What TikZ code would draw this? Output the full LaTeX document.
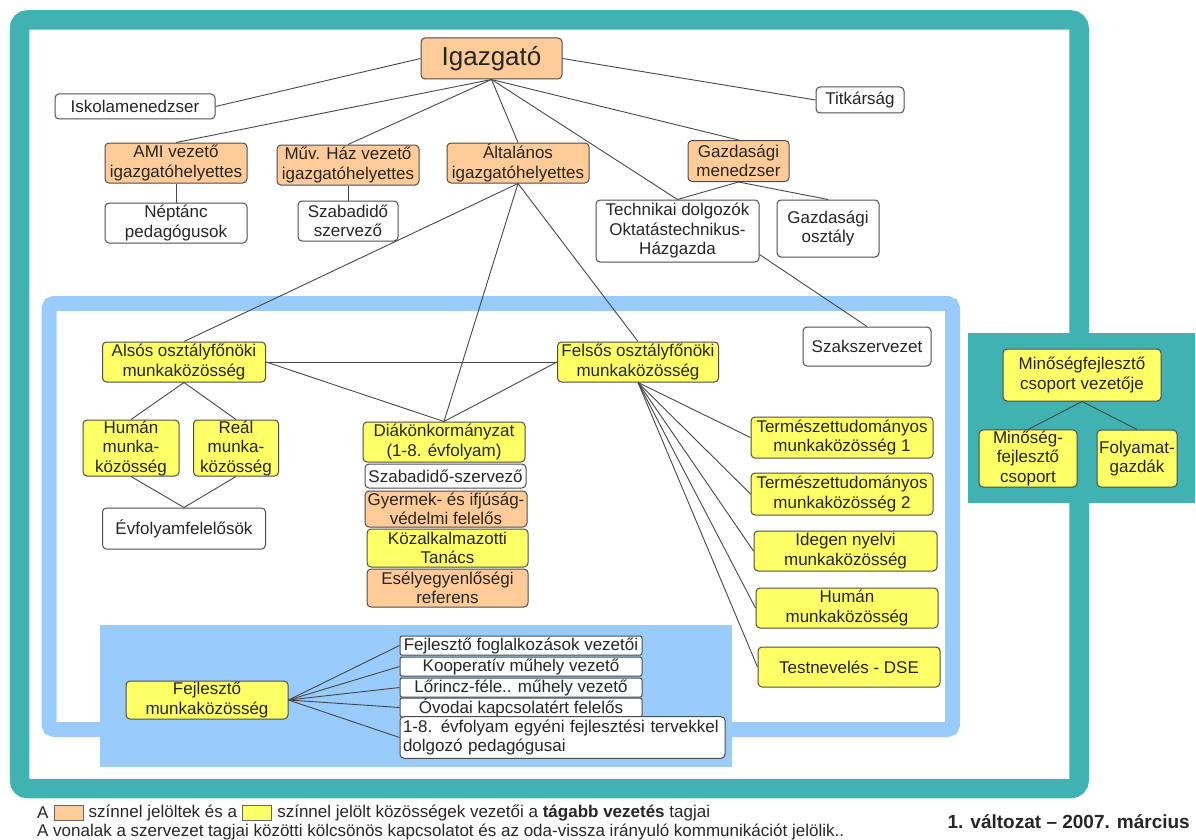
\documentclass[tikz,border=0pt]{standalone}
\usepackage{fontspec}
\setmainfont{Liberation Sans}
\usetikzlibrary{positioning}
\definecolor{keret}{RGB}{64,178,178}
\definecolor{kek}{RGB}{153,204,250}
\definecolor{narancs}{RGB}{255,204,153}
\definecolor{sarga}{RGB}{255,255,102}
\definecolor{vonal}{RGB}{70,70,70}
\tikzset{
	doboz/.style={draw=black!70, line width=1pt, rounded corners=4pt, align=center, inner sep=1pt, text=black!85, font=\fontsize{17}{19.5}\selectfont},
	narancsdoboz/.style={doboz, fill=narancs},
	sargadoboz/.style={doboz, fill=sarga},
	feherdoboz/.style={doboz, fill=white},
	meret/.style 2 args={minimum width=#1pt, minimum height=#2pt},
	kapcs/.style={draw=vonal, line width=0.9pt},
	legszoveg/.style={inner sep=0pt, text=black!85, font=\fontsize{17}{19}\selectfont},
	minta/.style={draw=black!60, line width=0.8pt, minimum width=29pt, minimum height=15pt, inner sep=0pt}
}

\begin{document}
\begin{tikzpicture}[x=1pt,y=-1pt]
		%%%%% START %%%%%
		\useasboundingbox (0,0) rectangle (1196,840);
		
		\draw[keret, line width=19.5pt, rounded corners=8pt] (19.5,20) rectangle (1079,788.5);
		\fill[keret] (968,333) rectangle (1195,503);
		\draw[kek, line width=15pt, rounded corners=5pt] (49,303.5) rectangle (952.5,729.5);
		\fill[kek] (100,625) rectangle (732,767);
		
		% vezetes
		\node[narancsdoboz, meret={141}{41}, font=\fontsize{26}{30}\selectfont] (igazgato) at (491.5,58.5) {Igazgató};
		\node[feherdoboz, meret={160}{25}] (iskola) at (135,106.5) {Iskolamenedzser};
		\node[feherdoboz, meret={88}{26}] (titkar) at (860,100) {Titkárság};
		\node[narancsdoboz, meret={142}{40}] (ami) at (176,163) {AMI vezető\\igazgatóhelyettes};
		\node[narancsdoboz, meret={142}{40}] (muv) at (348,165) {Műv. Ház vezető\\igazgatóhelyettes};
		\node[narancsdoboz, meret={142}{40}] (altalanos) at (518,163) {Általános\\igazgatóhelyettes};
		\node[narancsdoboz, meret={101}{41}] (gazdmen) at (738.5,161) {Gazdasági\\menedzser};
		\node[feherdoboz, meret={142}{40}] (neptanc) at (176,223) {Néptánc\\pedagógusok};
		\node[feherdoboz, meret={100}{40}] (szabadido) at (348,221) {Szabadidő\\szervező};
		\node[feherdoboz, meret={163}{62}] (technikai) at (677.5,231) {Technikai dolgozók\\Oktatástechnikus-\\Házgazda};
		\node[feherdoboz, meret={102}{57}] (gazdoszt) at (828,228.5) {Gazdasági\\osztály};
		\node[feherdoboz, meret={128}{39}] (szakszerv) at (867,346.5) {Szakszervezet};
		
		% munkakozossegek
		\node[sargadoboz, meret={163}{40}] (also) at (184,362) {Alsós osztályfőnöki\\munkaközösség};
		\node[sargadoboz, meret={161}{40}] (felso) at (638,362) {Felsős osztályfőnöki\\munkaközösség};
		\node[sargadoboz, meret={96}{56}, inner sep=0pt] (human) at (131,448) {Humán\\munka-\\közösség};
		\node[sargadoboz, meret={85}{56}, inner sep=0pt] (real) at (236,448) {Reál\\munka-\\közösség};
		\node[feherdoboz, meret={163}{41}] (evfolyam) at (184,528.5) {Évfolyamfelelősök};
		\node[sargadoboz, meret={162}{40}] (diak) at (444,442) {Diákönkormányzat\\(1-8. évfolyam)};
		\node[feherdoboz, meret={161}{24}, inner sep=0pt] (szabszerv) at (445.5,476) {Szabadidő-szervező};
		\node[narancsdoboz, meret={162}{36}, inner sep=0pt] (gyermek) at (446,509) {Gyermek- és ifjúság-\\védelmi felelős};
		\node[sargadoboz, meret={161}{38}] (kozalk) at (447.5,548) {Közalkalmazotti\\Tanács};
		\node[narancsdoboz, meret={161}{38}] (esely) at (447.5,588) {Esélyegyenlőségi\\referens};
		\node[sargadoboz, meret={182}{41}] (term1) at (842,437.5) {Természettudományos\\munkaközösség 1};
		\node[sargadoboz, meret={182}{42}] (term2) at (842,494) {Természettudományos\\munkaközösség 2};
		\node[sargadoboz, meret={183}{40}] (idegen) at (845.5,551) {Idegen nyelvi\\munkaközösség};
		\node[sargadoboz, meret={182}{40}] (humanm) at (847,608) {Humán\\munkaközösség};
		\node[sargadoboz, meret={182}{40}] (testnev) at (849,667) {Testnevelés - DSE};
		
		% minosegfejlesztes
		\node[sargadoboz, meret={158}{52}] (minvez) at (1082,375) {Minőségfejlesztő\\csoport vezetője};
		\node[sargadoboz, meret={98}{57}] (mincsop) at (1028,458.5) {Minőség-\\fejlesztő\\csoport};
		\node[sargadoboz, meret={80}{57}] (folyamat) at (1137,458.5) {Folyamat-\\gazdák};
		
		% fejleszto
		\node[sargadoboz, meret={162}{38}] (fejlmk) at (207,700) {Fejlesztő\\munkaközösség};
		\node[feherdoboz, meret={242}{19}, inner sep=0pt, rounded corners=2pt] (f1) at (521,645.5) {Fejlesztő foglalkozások vezetői};
		\node[feherdoboz, meret={242}{19}, inner sep=0pt, rounded corners=2pt] (f2) at (521,666.5) {Kooperatív műhely vezető};
		\node[feherdoboz, meret={242}{19}, inner sep=0pt, rounded corners=2pt] (f3) at (521,687.5) {Lőrincz-féle.. műhely vezető};
		\node[feherdoboz, meret={242}{19}, inner sep=0pt, rounded corners=2pt] (f4) at (521,707.5) {Óvodai kapcsolatért felelős};
		\node[feherdoboz, text width=319pt, inner sep=3pt, align=left, minimum height=37pt] (f5) at (562.5,737.5) {1-8. évfolyam egyéni fejlesztési tervekkel\\dolgozó pedagógusai};
		
		% kapcsolatok
		\draw[kapcs] (igazgato.west) -- (iskola.east);
		\draw[kapcs] (igazgato.east) -- (titkar.west);
		\foreach \cel in {ami,muv,altalanos,gazdmen,technikai}
			\draw[kapcs] (igazgato.south) -- (\cel.north);
		\draw[kapcs] (ami.south) -- (neptanc.north);
		\draw[kapcs] (muv.south) -- (szabadido.north);
		\draw[kapcs] (gazdmen.south) -- (technikai.north);
		\draw[kapcs] (gazdmen.south) -- (gazdoszt.north);
		\draw[kapcs] (technikai.-16) -- (szakszerv.north);
		\foreach \cel in {also,diak,felso}
			\draw[kapcs] (altalanos.south) -- (\cel.north);
		\draw[kapcs] (also.east) -- (felso.west);
		\draw[kapcs] (also.east) -- (diak.north);
		\draw[kapcs] (felso.west) -- (diak.north);
		\draw[kapcs] (also.south) -- (human.north);
		\draw[kapcs] (also.south) -- (real.north);
		\draw[kapcs] (human.south) -- (evfolyam.north);
		\draw[kapcs] (real.south) -- (evfolyam.north);
		\foreach \cel in {term1,term2,idegen,humanm,testnev}
			\draw[kapcs] (felso.south) -- (\cel.west);
		\draw[kapcs] (minvez.south) -- (mincsop.north);
		\draw[kapcs] (minvez.south) -- (folyamat.north);
		\foreach \cel in {f1,f2,f3,f4,f5}
			\draw[kapcs] (fejlmk.east) -- (\cel.west);
		
		% jelmagyarazat
		\node[legszoveg, anchor=west] (lega) at (37,813) {A};
		\node[minta, fill=narancs, right=5pt of lega] (minta1) {};
		\node[legszoveg, right=5pt of minta1] (legb) {színnel jelöltek és a};
		\node[minta, fill=sarga, right=5pt of legb] (minta2) {};
		\node[legszoveg, right=5pt of minta2] (legc) {színnel jelölt közösségek vezetői a \textbf{tágabb vezetés} tagjai};
		\node[legszoveg, anchor=west] (legd) at (37,832) {A vonalak a szervezet tagjai közötti kölcsönös kapcsolatot és az oda-vissza irányuló kommunikációt jelölik..};
		\node[legszoveg, anchor=east, font=\bfseries\fontsize{19}{21}\selectfont] (valtozat) at (1190,822) {1. változat – 2007. március};
		
		%%%%% END %%%%%
\end{tikzpicture}
\end{document}
